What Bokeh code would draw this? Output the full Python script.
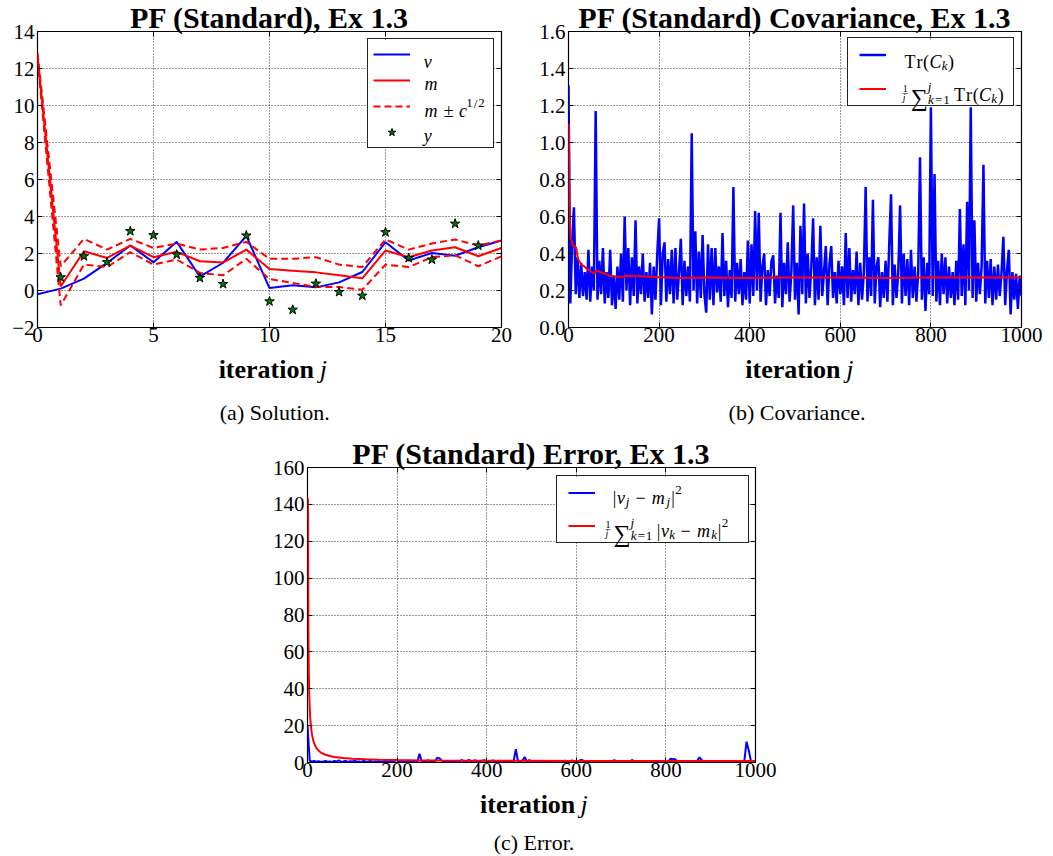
from bokeh.plotting import figure
from bokeh.models import (Label, Legend, LegendItem, LinearAxis, FixedTicker, Title, BoxAnnotation,
                          CustomJSTickFormatter, NumeralTickFormatter, Range1d, Spacer)
from bokeh.layouts import row, column
from bokeh.core.properties import value
from bokeh.embed import file_html
from bokeh.resources import INLINE

# ---------------- data ----------------
# (a) solution, iterations 0..20
sol_iter = list(range(0, 21))
sol_truth = [-0.20, 0.10, 0.64, 1.49, 2.43, 1.53, 2.63, 0.75, 1.50, 2.95, 0.13,
             0.28, 0.17, 0.44, 1.00, 2.61, 1.62, 2.03, 1.88, 2.34, 2.70]
sol_mean = [12.70, 0.22, 2.12, 1.76, 2.43, 1.80, 2.09, 1.58, 1.51, 2.21, 1.16,
            1.07, 0.98, 0.82, 0.66, 2.16, 1.80, 2.16, 2.34, 1.85, 2.30]
sol_upper = [12.85, 1.31, 2.79, 2.21, 2.79, 2.30, 2.54, 2.21, 2.30, 2.63, 1.71,
             1.71, 1.80, 1.40, 1.27, 2.76, 2.21, 2.54, 2.76, 2.43, 2.70]
sol_lower = [12.50, -0.81, 1.40, 1.27, 2.07, 1.40, 1.67, 0.95, 0.82, 1.71, 0.62,
             0.41, 0.19, 0.19, 0.04, 1.40, 1.27, 1.80, 1.91, 1.31, 1.85]
obs_iter = list(range(1, 20))
obs_y = [0.71, 1.85, 1.53, 3.21, 2.99, 1.94, 0.68, 0.35, 2.97, -0.59,
         -1.04, 0.37, -0.08, -0.28, 3.15, 1.76, 1.67, 3.61, 2.43]

# (b) covariance trace, every 4th iteration (spikes at 800/888 run up under the legend)
cov_iter = list(range(0, 1001, 4))
cov_trace = [
    1.31, 0.13, 0.45, 0.65, 0.18, 0.38, 0.16, 0.35, 0.17, 0.30, 0.15, 0.42, 0.14, 0.33, 0.20, 1.17, 0.15, 0.36, 0.18, 0.43, 0.13, 0.30, 0.16, 0.42, 0.12,
    0.28, 0.10, 0.33, 0.15, 0.40, 0.14, 0.60, 0.20, 0.43, 0.12, 0.38, 0.17, 0.58, 0.13, 0.33, 0.18, 0.40, 0.14, 0.30, 0.16, 0.35, 0.07, 0.33, 0.15, 0.40,
    0.59, 0.12, 0.40, 0.46, 0.14, 0.37, 0.18, 0.42, 0.13, 0.43, 0.15, 0.30, 0.48, 0.12, 0.36, 0.17, 0.33, 0.14, 1.05, 0.20, 0.52, 0.13, 0.41, 0.16, 0.50,
    0.18, 0.08, 0.45, 0.15, 0.43, 0.12, 0.43, 0.19, 0.33, 0.14, 0.51, 0.17, 0.36, 0.11, 0.31, 0.16, 0.76, 0.14, 0.35, 0.18, 0.37, 0.12, 0.30, 0.15, 0.47,
    0.13, 0.45, 0.17, 0.63, 0.20, 0.62, 0.14, 0.33, 0.40, 0.12, 0.31, 0.17, 0.36, 0.39, 0.13, 0.28, 0.16, 0.62, 0.11, 0.35, 0.18, 0.46, 0.14, 0.30, 0.66,
    0.15, 0.35, 0.07, 0.55, 0.18, 0.67, 0.13, 0.40, 0.16, 0.33, 0.59, 0.12, 0.38, 0.15, 0.55, 0.17, 0.30, 0.44, 0.12, 0.34, 0.44, 0.16, 0.30, 0.13, 0.36,
    0.18, 0.33, 0.12, 0.51, 0.16, 0.43, 0.14, 0.31, 0.18, 0.41, 0.12, 0.35, 0.15, 0.30, 0.76, 0.14, 0.38, 0.17, 0.69, 0.13, 0.33, 0.38, 0.11, 0.30, 0.16,
    0.36, 0.14, 0.45, 0.72, 0.12, 0.34, 0.16, 0.30, 0.66, 0.13, 0.40, 0.17, 0.37, 0.12, 0.42, 0.16, 0.33, 0.14, 0.30, 0.92, 0.15, 0.38, 0.09, 0.35, 0.18,
    1.19, 0.17, 0.83, 0.14, 0.36, 0.12, 0.40, 0.18, 0.38, 0.13, 0.33, 0.16, 0.30, 0.12, 0.36, 0.15, 0.64, 0.17, 0.45, 0.12, 0.68, 0.20, 1.19, 0.16, 0.58,
    0.14, 0.35, 0.18, 0.33, 0.88, 0.13, 0.36, 0.16, 0.37, 0.12, 0.33, 0.15, 0.34, 0.17, 0.30, 0.49, 0.12, 0.31, 0.42, 0.07, 0.30, 0.15, 0.29, 0.10, 0.28, 0.17,
]
cov_avg_iter = [1, 2, 3, 5, 8, 10, 14, 17, 21, 28, 35, 40, 51, 58, 61, 65, 70, 81, 92,
                105, 121, 125, 140, 161, 200, 246, 300, 400, 500, 600, 700, 800, 900, 1000]
cov_avg = [1.10, 0.72, 0.58, 0.48, 0.46, 0.44, 0.44, 0.43, 0.37, 0.34, 0.33, 0.318, 0.30, 0.29, 0.307,
           0.305, 0.30, 0.29, 0.278, 0.276, 0.274, 0.28, 0.279, 0.277, 0.272, 0.268, 0.27, 0.268,
           0.27, 0.27, 0.268, 0.27, 0.27, 0.27]

# (c) squared error, every 5th iteration
err_iter = list(range(0, 1001, 5))
err_sq = [
    20.0, 0.9, 0.6, 0.8, 0.4, 0.7, 0.3, 0.5, 0.9, 0.4, 0.6, 0.3, 0.8, 0.5, 1.2, 0.4, 0.6, 0.9, 0.3, 0.7,
    0.5, 1.0, 0.4, 0.6, 0.3, 0.8, 0.5, 0.4, 0.9, 0.3, 0.6, 0.5, 0.7, 0.3, 0.5, 0.8, 0.4, 0.6, 0.3, 0.9,
    1.5, 0.4, 0.6, 0.3, 0.8, 0.5, 0.9, 0.4, 0.6, 0.3, 4.8, 0.5, 0.4, 0.7, 1.2, 0.3, 0.6, 0.9, 2.6, 2.2,
    1.0, 0.4, 0.6, 0.3, 0.8, 0.4, 0.5, 0.3, 0.6, 1.4, 0.4, 0.3, 1.5, 0.5, 0.8, 1.2, 0.4, 0.6, 1.0, 1.3,
    0.4, 0.3, 0.8, 1.1, 0.4, 0.6, 0.9, 0.3, 0.5, 0.7, 0.4, 0.3, 0.6, 7.2, 0.5, 0.8, 1.0, 2.9, 0.4, 1.3,
    0.6, 0.3, 0.5, 0.4, 0.7, 0.3, 0.6, 0.4, 0.5, 0.3, 0.8, 0.4, 0.6, 0.3, 0.5, 1.0, 0.4, 0.6, 1.2, 0.3,
    0.5, 0.4, 1.5, 1.1, 0.4, 0.3, 0.9, 0.5, 0.4, 0.8, 0.3, 0.6, 0.4, 0.5, 0.9, 0.3, 0.7, 1.3, 0.4, 0.3,
    0.6, 0.4, 0.3, 0.8, 0.5, 1.4, 0.4, 0.3, 0.6, 0.5, 0.4, 0.8, 0.3, 0.5, 0.9, 0.4, 0.3, 0.6, 0.5, 0.4,
    0.7, 0.5, 2.0, 1.8, 1.9, 0.6, 0.4, 0.3, 0.7, 0.5, 0.4, 0.6, 0.3, 0.8, 1.0, 2.8, 1.3, 0.4, 0.6, 0.3,
    0.5, 0.4, 0.6, 0.3, 0.5, 0.4, 0.7, 0.3, 0.5, 0.4, 0.6, 0.3, 0.5, 0.4, 0.8, 0.6, 11.3, 6.5, 0.6, 0.4, 0.5,
]
err_avg_iter = [1, 2, 3, 4, 5, 6, 8, 10, 13, 16, 20, 25, 30, 40, 50, 60, 80, 100, 130, 160,
                200, 250, 300, 400, 500, 600, 700, 800, 900, 1000]
err_avg = [143.0, 72.0, 48.0, 36.5, 29.5, 24.5, 18.8, 15.2, 11.8, 9.6, 7.8, 6.4, 5.4, 4.2, 3.5,
           3.0, 2.4, 2.0, 1.7, 1.5, 1.3, 1.15, 1.05, 0.95, 0.9, 0.85, 0.8, 0.8, 0.78, 0.78]

sol_xticks = [0, 5, 10, 15, 20]
sol_yticks = [-2, 0, 2, 4, 6, 8, 10, 12, 14]
long_xticks = [0, 200, 400, 600, 800, 1000]
cov_yticks = [0.0, 0.2, 0.4, 0.6, 0.8, 1.0, 1.2, 1.4, 1.6]
err_yticks = [0, 20, 40, 60, 80, 100, 120, 140, 160]

titles = ["PF (Standard), Ex 1.3", "PF (Standard) Covariance, Ex 1.3", "PF (Standard) Error, Ex 1.3"]
captions = ["(a)  Solution.", "(b)  Covariance.", "(c)  Error."]

# ---------------- style helpers ----------------
SERIF = "Liberation Serif"
BLUE = "#0000ff"
RED = "#ff0000"
GREEN = "#007800"

# advance widths (Computer-Modern-like spacing) and glyph widths of the rendering font
CM_R = {' ': 0.333, '(': 0.389, ')': 0.389, '|': 0.278, '−': 0.778, '±': 0.778, '=': 0.778,
        '1': 0.5, '2': 0.5, '/': 0.5, 'T': 0.722, 'r': 0.392}
CM_I = {'v': 0.485, 'm': 0.878, 'j': 0.412, 'k': 0.521, 'c': 0.433, 'C': 0.715, 'y': 0.49}
TM_R = {' ': 0.25, '(': 0.333, ')': 0.333, '|': 0.2, '−': 0.564, '±': 0.564, '=': 0.564,
        '1': 0.5, '2': 0.5, '/': 0.278, 'T': 0.611, 'r': 0.333}
TM_I = {'v': 0.444, 'm': 0.722, 'j': 0.278, 'k': 0.444, 'c': 0.444, 'C': 0.667, 'y': 0.444}


def cm_w(ch, style):
    return (CM_I if style == "italic" else CM_R).get(ch, 0.5)


def tm_w(ch, style):
    return (TM_I if style == "italic" else TM_R).get(ch, 0.5)


BLANK = "return '';"


def make_fig(xr, yr, fw, fh, bl, br, bt, xticks, yticks, title):
    p = figure(frame_width=fw, frame_height=fh, x_range=Range1d(*xr), y_range=Range1d(*yr),
               min_border_left=bl, min_border_right=br, min_border_top=bt, min_border_bottom=24,
               output_backend="svg", toolbar_location=None,
               background_fill_color="white", border_fill_color="white")
    t = Title(text=title, align="center", vertical_align="bottom", text_font=SERIF,
              text_font_size="30px", text_font_style="bold", text_color="black")
    try:
        t.standoff = -4
    except Exception:
        t.standoff = 0
    p.title = t
    p.outline_line_color = "black"
    p.outline_line_width = 1.2
    p.outline_line_alpha = 1.0
    top = LinearAxis(formatter=CustomJSTickFormatter(code=BLANK))
    right = LinearAxis(formatter=CustomJSTickFormatter(code=BLANK))
    p.add_layout(top, "above")
    p.add_layout(right, "right")
    for ax, ticks in ((p.below[0], xticks), (top, xticks), (p.left[0], yticks), (right, yticks)):
        ax.ticker = FixedTicker(ticks=ticks)
        ax.axis_line_color = None
        ax.major_tick_in = 5
        ax.major_tick_out = 0
        ax.minor_tick_in = 0
        ax.minor_tick_out = 0
        ax.major_tick_line_color = "black"
        ax.major_tick_line_width = 1
        ax.major_label_text_font = SERIF
        ax.major_label_text_font_size = "21px"
        ax.major_label_text_color = "black"
    p.below[0].major_label_standoff = 0
    p.left[0].major_label_standoff = 3
    top.major_label_standoff = 0
    right.major_label_standoff = 0
    p.xgrid.ticker = FixedTicker(ticks=xticks)
    p.ygrid.ticker = FixedTicker(ticks=yticks)
    for g in (p.xgrid, p.ygrid):
        g.grid_line_color = "black"
        g.grid_line_dash = "1 2"
        g.grid_line_alpha = 0.8
        g.grid_line_width = 1
    return p


def strip(w, h):
    s = figure(width=w, height=h, x_range=Range1d(0, w), y_range=Range1d(0, h),
               min_border_left=0, min_border_right=0, min_border_top=0, min_border_bottom=0,
               title=None, x_axis_type=None, y_axis_type=None,
               output_backend="svg", toolbar_location=None,
               background_fill_color="white", border_fill_color="white")
    s.outline_line_color = None
    return s


def stext(s, x, y, txt, size, style="normal", align="left"):
    s.text(x=[x], y=[y], text=[txt], text_font=value(SERIF), text_font_size=value(f"{size}px"),
           text_font_style=style, text_align=align, text_baseline="alphabetic", text_color="black")


def xlabel(s, cx, y):
    w_it, w_sp, w_j = 95.3, 6.5, 7.2
    right_edge = cx - (w_it + w_sp + w_j) / 2 + w_it
    stext(s, right_edge, y, "iteration", 26, "bold", "right")
    stext(s, right_edge + w_sp, y, "j", 26, "italic", "left")


def lab(p, x, y, text, size, style="normal"):
    p.add_layout(Label(x=x, y=y, x_units="screen", y_units="screen", text=text, level="overlay",
                       text_font=SERIF, text_font_size=f"{int(size)}px", text_font_style=style,
                       text_align="left", text_baseline="alphabetic", text_color="black"))


B = 17.0   # legend math size (layout)
S = 12.0   # script size


def pc(txt, style="normal", size=B, dy=0.0, adv=None, render=None):
    rs = render if render is not None else int(round(size * 1.06))
    return (txt, style, size, dy, adv, rs)


def mathrow(p, x, y, pieces):
    cx = x
    for txt, style, size, dy, adv, rs in pieces:
        if adv is not None:
            if txt:
                lab(p, cx, y + dy, txt, rs, style)
            cx += adv
            continue
        for ch in txt:
            a = cm_w(ch, style) * size
            w = tm_w(ch, style) * rs
            lab(p, cx + (a - w) / 2, y + dy, ch, rs, style)
            cx += a


def frac_sum(limit_var):
    return [
        pc("1", size=9, dy=6.5, adv=0, render=10),
        pc("–", size=9, dy=2.2, adv=0, render=10),
        pc("j", "italic", size=9, dy=-3.2, adv=8, render=10),
        pc("∑", size=B, dy=-3, adv=17, render=24),
        pc("j", "italic", size=S, dy=8.5, adv=0),
        pc(limit_var, "italic", size=S, dy=-5),
        pc("=1", size=S, dy=-5),
        pc("", adv=4),
    ]


def tr_ck():
    return [pc("Tr("), pc("C", "italic"), pc("k", "italic", size=S, dy=-3.5), pc(")")]


def abs_sq(sub):
    gap = 0.222 * B
    return [pc("|"), pc("v", "italic"), pc(sub, "italic", size=S, dy=-3.5),
            pc("", adv=gap), pc("−"), pc("", adv=gap),
            pc("m", "italic"), pc(sub, "italic", size=S, dy=-3.5),
            pc("|"), pc("2", size=S, dy=8)]


def legend(p, items, loc, padding, spacing, gw, gh, lw, standoff):
    n = len(items)
    width = 2 * padding + gw + standoff + lw
    height = 2 * padding + n * gh + (n - 1) * spacing
    p.add_layout(BoxAnnotation(left=loc[0], right=loc[0] + width, bottom=loc[1], top=loc[1] + height,
                               left_units="screen", right_units="screen",
                               bottom_units="screen", top_units="screen",
                               fill_color="white", fill_alpha=1.0, line_color=None, level="underlay"))
    lg = Legend(items=items, location=loc, padding=padding, spacing=spacing, margin=0,
                glyph_width=gw, glyph_height=gh, label_height=gh, label_width=lw,
                label_standoff=standoff, label_text_font_size="6px",
                border_line_color="#222222", border_line_width=1.3, border_line_alpha=1.0,
                background_fill_alpha=0.0)
    p.add_layout(lg)
    return lg


# ---------------- (a) solution ----------------
FW1, FH1 = 464, 296
p1 = make_fig((0, 20), (-2, 14), FW1, FH1, 37, 19, 31, sol_xticks, sol_yticks, titles[0])
p1.left[0].formatter = CustomJSTickFormatter(
    code="return tick < 0 ? '\u2212' + Math.abs(tick) : String(tick);")
r_v = p1.line(sol_iter, sol_truth, line_color=BLUE, line_width=2)
r_m = p1.line(sol_iter, sol_mean, line_color=RED, line_width=2)
r_up = p1.line(sol_iter, sol_upper, line_color=RED, line_width=2, line_dash="7 4")
p1.line(sol_iter, sol_lower, line_color=RED, line_width=2, line_dash="7 4")
r_y = p1.scatter(obs_iter, obs_y, marker="star", size=10, fill_color=GREEN,
                 line_color="black", line_width=1)
legend(p1, [LegendItem(label=" ", renderers=[r]) for r in (r_v, r_m, r_up, r_y)],
       (330, 179), 5, 6, 37, 20, 66, 12)
mathrow(p1, 386, 265.3, [pc("v", "italic")])
mathrow(p1, 386, 243.7, [pc("m", "italic")])
mathrow(p1, 386, 217, [pc("m", "italic"), pc("", adv=0.222 * B), pc("±"), pc("", adv=0.222 * B),
                       pc("c", "italic"), pc("1/2", size=S, dy=7.5)])
mathrow(p1, 386, 192, [pc("y", "italic")])

ba = strip(520, 77)
xlabel(ba, 269, 59)
stext(ba, 269, 16, captions[0], 22, "normal", "center")

# ---------------- (b) covariance ----------------
FW2, FH2 = 453, 296
p2 = make_fig((0, 1000), (0, 1.6), FW2, FH2, 48, 24, 31, long_xticks, cov_yticks, titles[1])
p2.left[0].formatter = NumeralTickFormatter(format="0.0")
r_tr = p2.line(cov_iter, cov_trace, line_color=BLUE, line_width=2.5)
r_tra = p2.line(cov_avg_iter, cov_avg, line_color=RED, line_width=2)
legend(p2, [LegendItem(label=" ", renderers=[r]) for r in (r_tr, r_tra)],
       (279, 221), 11, 23, 27, 11, 98, 18)
mathrow(p2, 335.3, 265.3, tr_ck())
mathrow(p2, 334.3, 233, frac_sum("k") + tr_ck())

bb = strip(525, 77)
xlabel(bb, 274.5, 59)
stext(bb, 268, 16, captions[1], 22, "normal", "center")

# ---------------- (c) error ----------------
FW3, FH3 = 448, 295
p3 = make_fig((0, 1000), (0, 160), FW3, FH3, 67, 40, 39, long_xticks, err_yticks, titles[2])
r_e = p3.line(err_iter, err_sq, line_color=BLUE, line_width=2)
r_ea = p3.line(err_avg_iter, err_avg, line_color=RED, line_width=2)
legend(p3, [LegendItem(label=" ", renderers=[r]) for r in (r_e, r_ea)],
       (249, 219.5), 11, 22, 27, 11, 124, 18)
mathrow(p3, 304.7, 265, abs_sq("j"))
mathrow(p3, 298, 232, frac_sum("k") + abs_sq("k"))

bc = strip(555, 69)
xlabel(bc, 291, 51)
stext(bc, 284, 13, captions[2], 22, "normal", "center")

layout = column(
    row(column(p1, ba), column(p2, bb)),
    row(Spacer(width=240, height=10), column(p3, bc)),
)

with open("out.html", "w") as f:
    f.write(file_html(layout, INLINE))
